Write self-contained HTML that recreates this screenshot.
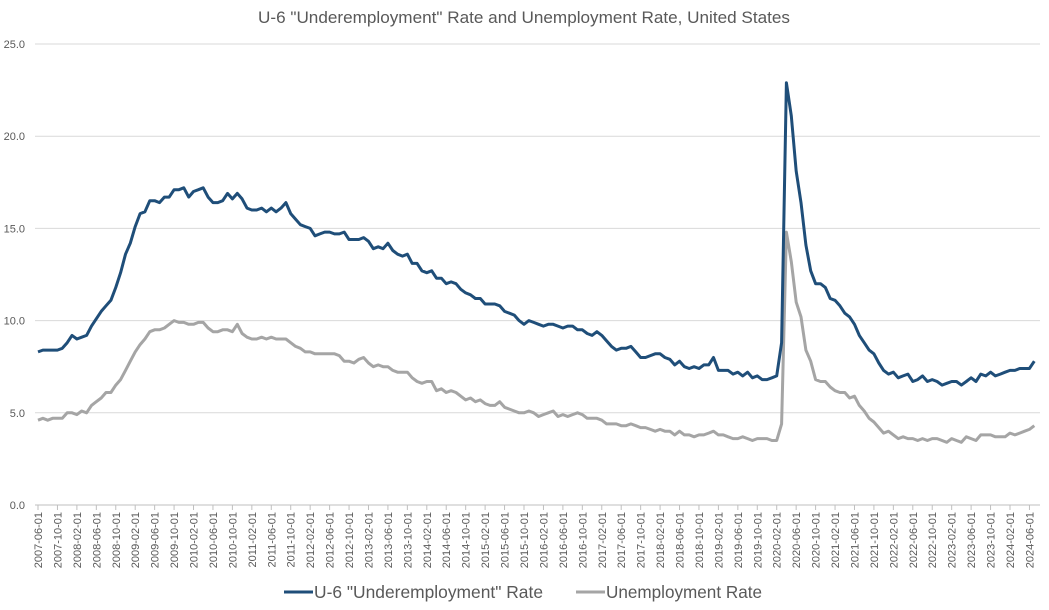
<!DOCTYPE html>
<html><head><meta charset="utf-8"><style>
body{margin:0;background:#fff;font-family:"Liberation Sans",Arial,sans-serif;}
svg{display:block}
</style></head><body>
<svg id="c" width="1049" height="610" xmlns="http://www.w3.org/2000/svg" font-family="Liberation Sans, Arial, sans-serif">
<rect width="1049" height="610" fill="#fff"/>
<text x="258" y="23" font-size="17" fill="#595959" textLength="532" lengthAdjust="spacingAndGlyphs">U-6 "Underemployment" Rate and Unemployment Rate, United States</text>
<g id="grid"></g>
<g id="xl"></g>
<polyline id="u3" fill="none" stroke="#a5a5a5" stroke-width="3" stroke-linejoin="round"/>
<polyline id="u6" fill="none" stroke="#1f4e79" stroke-width="3" stroke-linejoin="round"/>
<line x1="284" y1="592" x2="313" y2="592" stroke="#1f4e79" stroke-width="3"/>
<text x="314" y="598" font-size="17.5" fill="#595959" textLength="229" lengthAdjust="spacingAndGlyphs">U-6 "Underemployment" Rate</text>
<line x1="576" y1="592" x2="605" y2="592" stroke="#a5a5a5" stroke-width="3"/>
<text x="606" y="598" font-size="17.5" fill="#595959" textLength="156" lengthAdjust="spacingAndGlyphs">Unemployment Rate</text>
</svg>
<script>
var u3=[4.6,4.7,4.6,4.7,4.7,4.7,5.0,
5.0,4.9,5.1,5.0,5.4,5.6,5.8,6.1,6.1,6.5,6.8,7.3,
7.8,8.3,8.7,9.0,9.4,9.5,9.5,9.6,9.8,10.0,9.9,9.9,
9.8,9.8,9.9,9.9,9.6,9.4,9.4,9.5,9.5,9.4,9.8,9.3,
9.1,9.0,9.0,9.1,9.0,9.1,9.0,9.0,9.0,8.8,8.6,8.5,
8.3,8.3,8.2,8.2,8.2,8.2,8.2,8.1,7.8,7.8,7.7,7.9,
8.0,7.7,7.5,7.6,7.5,7.5,7.3,7.2,7.2,7.2,6.9,6.7,
6.6,6.7,6.7,6.2,6.3,6.1,6.2,6.1,5.9,5.7,5.8,5.6,
5.7,5.5,5.4,5.4,5.6,5.3,5.2,5.1,5.0,5.0,5.1,5.0,
4.8,4.9,5.0,5.1,4.8,4.9,4.8,4.9,5.0,4.9,4.7,4.7,
4.7,4.6,4.4,4.4,4.4,4.3,4.3,4.4,4.3,4.2,4.2,4.1,
4.0,4.1,4.0,4.0,3.8,4.0,3.8,3.8,3.7,3.8,3.8,3.9,
4.0,3.8,3.8,3.7,3.6,3.6,3.7,3.6,3.5,3.6,3.6,3.6,
3.5,3.5,4.4,14.8,13.2,11.0,10.2,8.4,7.8,6.8,6.7,6.7,
6.4,6.2,6.1,6.1,5.8,5.9,5.4,5.1,4.7,4.5,4.2,3.9,
4.0,3.8,3.6,3.7,3.6,3.6,3.5,3.6,3.5,3.6,3.6,3.5,
3.4,3.6,3.5,3.4,3.7,3.6,3.5,3.8,3.8,3.8,3.7,3.7,
3.7,3.9,3.8,3.9,4.0,4.1,4.3];
var u6=[8.3,8.4,8.4,8.4,8.4,8.5,8.8,
9.2,9.0,9.1,9.2,9.7,10.1,10.5,10.8,11.1,11.8,12.6,13.6,
14.2,15.1,15.8,15.9,16.5,16.5,16.4,16.7,16.7,17.1,17.1,17.2,
16.7,17.0,17.1,17.2,16.7,16.4,16.4,16.5,16.9,16.6,16.9,16.6,
16.1,16.0,16.0,16.1,15.9,16.1,15.9,16.1,16.4,15.8,15.5,15.2,
15.1,15.0,14.6,14.7,14.8,14.8,14.7,14.7,14.8,14.4,14.4,14.4,
14.5,14.3,13.9,14.0,13.9,14.2,13.8,13.6,13.5,13.6,13.1,13.1,
12.7,12.6,12.7,12.3,12.3,12.0,12.1,12.0,11.7,11.5,11.4,11.2,
11.2,10.9,10.9,10.9,10.8,10.5,10.4,10.3,10.0,9.8,10.0,9.9,
9.8,9.7,9.8,9.8,9.7,9.6,9.7,9.7,9.5,9.5,9.3,9.2,
9.4,9.2,8.9,8.6,8.4,8.5,8.5,8.6,8.3,8.0,8.0,8.1,
8.2,8.2,8.0,7.9,7.6,7.8,7.5,7.4,7.5,7.4,7.6,7.6,
8.0,7.3,7.3,7.3,7.1,7.2,7.0,7.2,6.9,7.0,6.8,6.8,
6.9,7.0,8.8,22.9,21.1,18.1,16.4,14.1,12.7,12.0,12.0,11.8,
11.2,11.1,10.8,10.4,10.2,9.8,9.2,8.8,8.4,8.2,7.7,7.3,
7.1,7.2,6.9,7.0,7.1,6.7,6.8,7.0,6.7,6.8,6.7,6.5,
6.6,6.7,6.7,6.5,6.7,6.9,6.7,7.1,7.0,7.2,7.0,7.1,
7.2,7.3,7.3,7.4,7.4,7.4,7.8];
function X(i){return 38+i*4.86}
function Y(v){return 505-v*18.44}
function pts(a){return a.map(function(v,i){return X(i).toFixed(1)+","+Y(v).toFixed(1)}).join(" ")}
document.getElementById("u3").setAttribute("points",pts(u3));
document.getElementById("u6").setAttribute("points",pts(u6));
var g="";
for(var k=0;k<=5;k++){var y=Y(k*5);
 g+='<line x1="35" x2="1040" y1="'+y+'" y2="'+y+'" stroke="'+(k==0?'#bfbfbf':'#d9d9d9')+'" stroke-width="1"/>';
 g+='<text x="25" y="'+(y+4)+'" text-anchor="end" font-size="11" fill="#595959">'+(k*5).toFixed(1)+'</text>';}
var xl="";
for(var j=0;j<=51;j++){var m=5+j*4;var yr=2007+Math.floor(m/12);var mo=m%12+1;
 var x=X(j*4);
 xl+='<line x1="'+x+'" x2="'+x+'" y1="505" y2="510" stroke="#bfbfbf"/>';
 var lab=yr+"-"+(mo<10?"0":"")+mo+"-01";
 xl+='<text transform="translate('+(x+4)+',512) rotate(-90)" text-anchor="end" font-size="11" fill="#595959">'+lab+'</text>';}
document.getElementById("grid").innerHTML=g;
document.getElementById("xl").innerHTML=xl;
</script>
</body></html>
